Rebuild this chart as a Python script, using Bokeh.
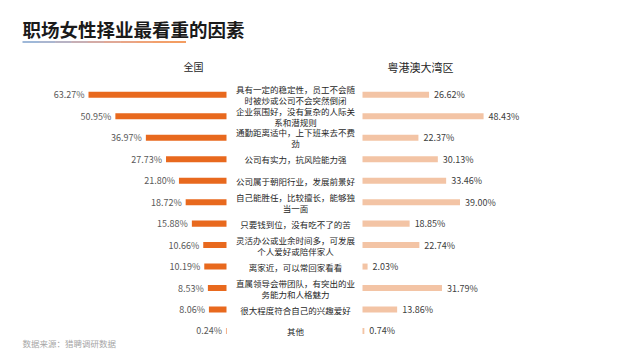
from bokeh.plotting import figure
from bokeh.models import Range1d, ColumnDataSource, Label, BoxAnnotation
from bokeh.core.properties import value
from bokeh.embed import file_html
from bokeh.resources import INLINE

factors = [
    "具有一定的稳定性，员工不会随\n时被炒或公司不会突然倒闭",
    "企业氛围好，没有复杂的人际关\n系和潜规则",
    "通勤距离适中，上下班来去不费\n劲",
    "公司有实力，抗风险能力强",
    "公司属于朝阳行业，发展前景好",
    "自己能胜任，比较擅长，能够独\n当一面",
    "只要钱到位，没有吃不了的苦",
    "灵活办公或业余时间多，可发展\n个人爱好或陪伴家人",
    "离家近，可以常回家看看",
    "直属领导会带团队，有突出的业\n务能力和人格魅力",
    "很大程度符合自己的兴趣爱好",
    "其他",
]
national = [63.27, 50.95, 36.97, 27.73, 21.80, 18.72, 15.88, 10.66, 10.19, 8.53, 8.06, 0.24]
gba = [26.62, 48.43, 22.37, 30.13, 33.46, 39.00, 18.85, 22.74, 2.03, 31.79, 13.86, 0.74]

FONT = "Noto Sans CJK SC"
W, H = 640, 360

idx = list(range(len(factors)))
line1 = [f.split("\n")[0] for f in factors]
line2 = [f.split("\n")[1] if "\n" in f else "" for f in factors]
off1 = [-5.5 if "\n" in f else 0 for f in factors]
off2 = [5.5 if "\n" in f else 0 for f in factors]

src = ColumnDataSource(dict(
    y=idx,
    line1=line1, line2=line2, off1=off1, off2=off2,
    nat_left=[-v for v in national],
    nat_zero=[0] * len(national),
    nat_text=[f"{v:.2f}%" for v in national],
    gba=gba,
    gba_zero=[0] * len(gba),
    gba_text=[f"{v:.2f}%" for v in gba],
    mid=[31.64] * len(factors),
))

p = figure(width=W, height=H, output_backend="svg", toolbar_location=None,
           x_range=Range1d(-103.62, 189.82), y_range=Range1d(12.375, -4.392),
           min_border=0, outline_line_color=None)
p.extra_x_ranges = {"gba": Range1d(-144.8, 111.2)}
p.axis.visible = False
p.grid.visible = False
p.background_fill_color = "white"
p.border_fill_color = "white"

# left (national) bars
p.hbar(y="y", left="nat_left", right="nat_zero", height=0.28, source=src,
       fill_color="#E8691E", line_color=None)
p.text(x="nat_left", y="y", text="nat_text", source=src, x_offset=-4,
       text_align="right", text_baseline="middle", text_font=value(FONT),
       text_font_size="9px", text_color="#595959")

# right (GBA) bars
p.hbar(y="y", left="gba_zero", right="gba", height=0.28, source=src,
       fill_color="#F3C4A5", line_color=None, x_range_name="gba")
p.text(x="gba", y="y", text="gba_text", source=src, x_offset=5,
       text_align="left", text_baseline="middle", text_font=value(FONT),
       text_font_size="9px", text_color="#404040", x_range_name="gba")

# middle labels (two lines where needed)
for col, off in (("line1", "off1"), ("line2", "off2")):
    p.text(x="mid", y="y", text=col, y_offset=off, source=src, text_align="center",
           text_baseline="middle", text_font=value(FONT), text_font_size="8.5px",
           text_color="#262626")

# title
p.add_layout(Label(x=22, y=332, x_units="screen", y_units="screen",
                   text="职场女性择业最看重的因素", text_font=FONT,
                   text_font_size="18.5px", text_font_style="bold",
                   text_color="#1a1a1a", text_baseline="middle"))
# gradient underline
grad = ["#9fb8d8", "#aab6d0", "#b8b3c4", "#c7afb5", "#d4aba6", "#e0a896",
        "#e9a586", "#efa378", "#f2a06c", "#f39d62"]
x0, x1 = 22, 185
step = (x1 - x0) / len(grad)
for i, c in enumerate(grad):
    p.add_layout(BoxAnnotation(left=x0 + i * step, right=x0 + (i + 1) * step + 0.5,
                               bottom=317.5, top=319.5,
                               left_units="screen", right_units="screen",
                               bottom_units="screen", top_units="screen",
                               fill_color=c, fill_alpha=1, line_color=None))

# panel headers
p.add_layout(Label(x=193, y=294, x_units="screen", y_units="screen", text="全国",
                   text_font=FONT, text_font_size="10px", text_color="#262626",
                   text_align="center", text_baseline="middle"))
p.add_layout(Label(x=420, y=294, x_units="screen", y_units="screen", text="粤港澳大湾区",
                   text_font=FONT, text_font_size="11px", text_color="#262626",
                   text_align="center", text_baseline="middle"))

# footer
p.add_layout(Label(x=22, y=18, x_units="screen", y_units="screen",
                   text="数据来源：猎聘调研数据", text_font=FONT,
                   text_font_size="8.5px", text_color="#a6a6a6",
                   text_baseline="middle"))

open("out.html", "w").write(file_html(p, INLINE))
